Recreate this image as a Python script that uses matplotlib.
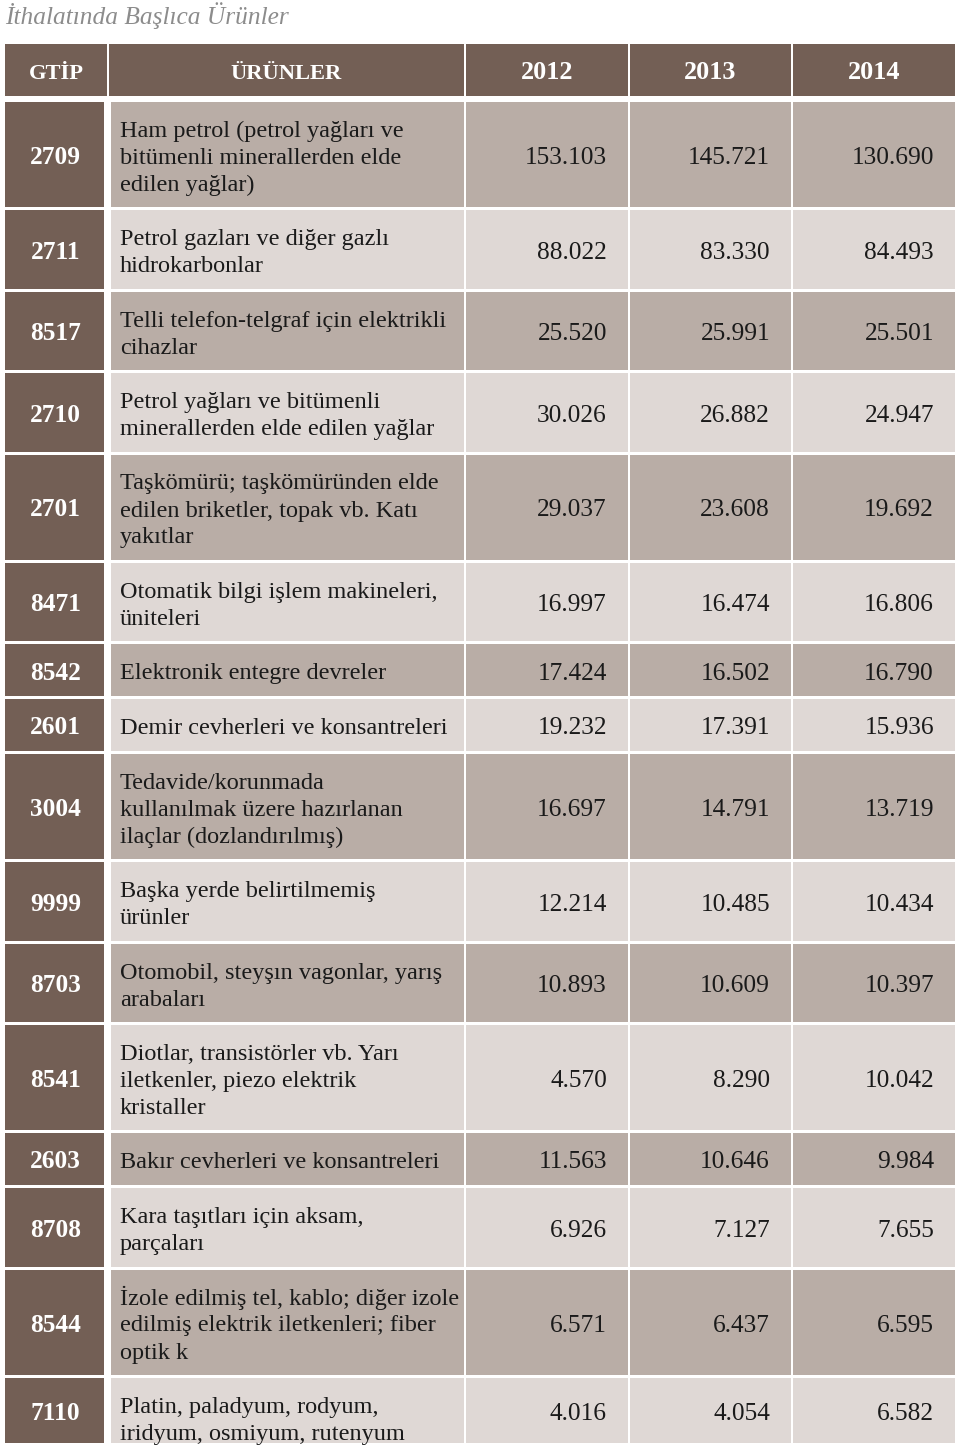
import matplotlib
matplotlib.use("Agg")
import matplotlib.pyplot as plt
from matplotlib.patches import Rectangle

# ---------------- data ----------------
title = "İthalatında Başlıca Ürünler"
headers = ["GTİP", "ÜRÜNLER", "2012", "2013", "2014"]
gtip = ["2709", "2711", "8517", "2710", "2701", "8471", "8542", "2601",
        "3004", "9999", "8703", "8541", "2603", "8708", "8544", "7110"]
products = [
    "Ham petrol (petrol yağları ve\nbitümenli minerallerden elde\nedilen yağlar)",
    "Petrol gazları ve diğer gazlı\nhidrokarbonlar",
    "Telli telefon-telgraf için elektrikli\ncihazlar",
    "Petrol yağları ve bitümenli\nminerallerden elde edilen yağlar",
    "Taşkömürü; taşkömüründen elde\nedilen briketler, topak vb. Katı\nyakıtlar",
    "Otomatik bilgi işlem makineleri,\nüniteleri",
    "Elektronik entegre devreler",
    "Demir cevherleri ve konsantreleri",
    "Tedavide/korunmada\nkullanılmak üzere hazırlanan\nilaçlar (dozlandırılmış)",
    "Başka yerde belirtilmemiş\nürünler",
    "Otomobil, steyşın vagonlar, yarış\narabaları",
    "Diotlar, transistörler vb. Yarı\niletkenler, piezo elektrik\nkristaller",
    "Bakır cevherleri ve konsantreleri",
    "Kara taşıtları için aksam,\nparçaları",
    "İzole edilmiş tel, kablo; diğer izole\nedilmiş elektrik iletkenleri; fiber\noptik k",
    "Platin, paladyum, rodyum,\niridyum, osmiyum, rutenyum",
]
v2012 = [153.103, 88.022, 25.520, 30.026, 29.037, 16.997, 17.424, 19.232,
         16.697, 12.214, 10.893, 4.570, 11.563, 6.926, 6.571, 4.016]
v2013 = [145.721, 83.330, 25.991, 26.882, 23.608, 16.474, 16.502, 17.391,
         14.791, 10.485, 10.609, 8.290, 10.646, 7.127, 6.437, 4.054]
v2014 = [130.690, 84.493, 25.501, 24.947, 19.692, 16.806, 16.790, 15.936,
         13.719, 10.434, 10.397, 10.042, 9.984, 7.655, 6.595, 6.582]

# ---------------- style ----------------
W, H = 960, 1447
DARK = "#735F55"
MED = "#B9ADA6"
LIGHT = "#DFD8D5"
TITLE_C = "#8C8C8C"
TEXT_C = "#1a1a1a"
FONT = "Liberation Serif"
FS_TEXT = 17.5
FS_NUM = 18.3
FS_HEAD_WORD = 16.2
FS_HEAD_NUM = 18.8
FS_GTIP = 18.3
LINE_PX = 27.0
BASE_OFF = 9.5

fig = plt.figure(figsize=(W / 100, H / 100), dpi=100)
ax = fig.add_axes([0, 0, 1, 1])
ax.set_xlim(0, W)
ax.set_ylim(H, 0)
ax.axis("off")

ax.text(5, 24, title, fontsize=18.3, fontstyle="italic", family=FONT,
        color=TITLE_C, ha="left", va="baseline")

head_cols = [(5, 107), (109, 464), (466, 628), (630, 791), (793, 955)]
body_cols = [(5, 104), (111, 464), (466, 628), (630, 791), (793, 955)]
right_pad = 21

# header
hy0, hy1 = 44, 96
for (x0, x1), lab in zip(head_cols, headers):
    ax.add_patch(Rectangle((x0, hy0), x1 - x0, hy1 - hy0, color=DARK, lw=0))
    fs = FS_HEAD_NUM if lab.isdigit() else FS_HEAD_WORD
    ax.text((x0 + x1) / 2, 79, lab, fontsize=fs, family=FONT,
            fontweight="bold", color="white", ha="center", va="baseline")

# body
y = 102.0
gap = 3.0
bottom_limit = 1443
for i in range(len(gtip)):
    lines = products[i].split("\n")
    n = len(lines)
    h = 52 + 26.5 * (n - 1)
    y0 = y
    y1_full = y0 + h
    y1 = min(y1_full, bottom_limit)
    fill = MED if i % 2 == 0 else LIGHT
    gx0, gx1 = body_cols[0]
    ax.add_patch(Rectangle((gx0, y0), gx1 - gx0, y1 - y0, color=DARK, lw=0))
    base = (y0 + y1) / 2 + BASE_OFF
    ax.text((gx0 + gx1) / 2 + 1, base, gtip[i], fontsize=FS_GTIP, family=FONT,
            fontweight="bold", color="white", ha="center", va="baseline")
    for (x0, x1) in body_cols[1:]:
        ax.add_patch(Rectangle((x0, y0), x1 - x0, y1 - y0, color=fill, lw=0))
    pbase = (y0 + y1_full) / 2 + BASE_OFF
    for k, line in enumerate(lines):
        ax.text(body_cols[1][0] + 9, pbase + (k - (n - 1) / 2) * LINE_PX, line,
                fontsize=FS_TEXT, family=FONT, color=TEXT_C, ha="left",
                va="baseline")
    for (x0, x1), vals in zip(body_cols[2:], (v2012, v2013, v2014)):
        ax.text(x1 - right_pad, base, f"{vals[i]:.3f}", fontsize=FS_NUM,
                family=FONT, color=TEXT_C, ha="right", va="baseline")
    y = y1_full + gap

fig.savefig("out.png", dpi=100, facecolor="white")
